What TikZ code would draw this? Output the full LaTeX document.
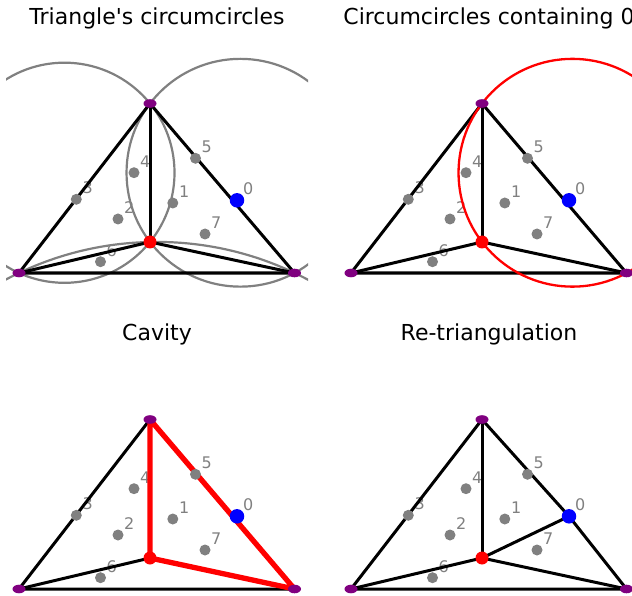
\documentclass[tikz,border=0pt]{standalone}
\usepackage{fontspec}
\setmainfont{DejaVu Sans}[Ligatures=TeXOff]
\usetikzlibrary{calc,shapes.geometric}
\definecolor{mpurple}{HTML}{800080}
\definecolor{mgray}{HTML}{808080}
\definecolor{mred}{HTML}{FF0000}
\definecolor{mblue}{HTML}{0000FF}
\tikzset{
  ttl/.style={font=\fontsize{22}{24}\selectfont, text=black, inner sep=0pt, anchor=base},
  lbl/.style={font=\fontsize{16}{18}\selectfont, text=mgray, inner sep=0pt, anchor=base west},
  edge/.style={draw=black, line width=3pt, line join=round},
  cavedge/.style={draw=mred, line width=5.3pt, line join=round, line cap=round},
  ccirc/.style={draw=mgray, line width=2.2pt},
  rcirc/.style={draw=mred, line width=2.3pt},
  gpt/.style={circle, fill=mgray, inner sep=0pt, minimum size=11pt},
  rpt/.style={circle, fill=mred, inner sep=0pt, minimum size=13pt},
  bpt/.style={circle, fill=mblue, inner sep=0pt, minimum size=14.5pt},
  vpt/.style={ellipse, fill=mpurple, inner sep=0pt, minimum width=13pt, minimum height=8.6pt},
}
% panel geometry: #1 suffix, #2 x shift, #3 y shift
\newcommand{\mkpanel}[3]{%
  \begin{scope}[shift={(#2,#3)}]
    \coordinate (T#1) at (150,103.5);
    \coordinate (L#1) at (19,273);
    \coordinate (R#1) at (294.5,273);
    \coordinate (C#1) at (150,242);
    \coordinate (Pz#1) at (237,200.3);
    \coordinate (Pa#1) at (172.8,203);
    \coordinate (Pb#1) at (118,219);
    \coordinate (Pc#1) at (76.3,199.3);
    \coordinate (Pd#1) at (134,172.7);
    \coordinate (Pe#1) at (195.5,158.3);
    \coordinate (Pf#1) at (100.5,261.7);
    \coordinate (Pg#1) at (205,234);
  \end{scope}}
\newcommand{\mklabels}[1]{%
  \node[lbl] (lz#1) at ($(Pz#1)+(6,-5.5)$) {0};
  \node[lbl] (la#1) at ($(Pa#1)+(6,-5.5)$) {1};
  \node[lbl] (lb#1) at ($(Pb#1)+(6,-5.5)$) {2};
  \node[lbl] (lc#1) at ($(Pc#1)+(6,-5.5)$) {3};
  \node[lbl] (ld#1) at ($(Pd#1)+(6,-5.5)$) {4};
  \node[lbl] (le#1) at ($(Pe#1)+(6,-5.5)$) {5};
  \node[lbl] (lf#1) at ($(Pf#1)+(6,-5.5)$) {6};
  \node[lbl] (lg#1) at ($(Pg#1)+(6,-5.5)$) {7};}
\newcommand{\mkpoints}[1]{%
  \node[gpt] (ga#1) at (Pa#1) {};
  \node[gpt] (gb#1) at (Pb#1) {};
  \node[gpt] (gc#1) at (Pc#1) {};
  \node[gpt] (gd#1) at (Pd#1) {};
  \node[gpt] (ge#1) at (Pe#1) {};
  \node[gpt] (gf#1) at (Pf#1) {};
  \node[gpt] (gg#1) at (Pg#1) {};
  \node[rpt] (rc#1) at (C#1) {};
  \node[bpt] (bz#1) at (Pz#1) {};
  \node[vpt] (vt#1) at (T#1) {};
  \node[vpt] (vl#1) at (L#1) {};
  \node[vpt] (vr#1) at (R#1) {};}
\begin{document}
\begin{tikzpicture}[x=1pt,y=-1pt]
\useasboundingbox (0,0) rectangle (632,596);
\mkpanel{A}{0}{0}
\mkpanel{B}{332}{0}
\mkpanel{C}{0}{316}
\mkpanel{D}{332}{316}
% titles
\node[ttl] (t1) at (157,24.5) {Triangle's circumcircles};
\node[ttl] (t2) at (489,24.5) {Circumcircles containing 0};
\node[ttl] (t3) at (157,340) {Cavity};
\node[ttl] (t4) at (489,340) {Re-triangulation};
% ---- panel A
\mklabels{A}
\begin{scope}
  \clip (6,0) rectangle (308,305);
  \draw[ccirc] (64.44,172.75) circle[radius=110.07pt];
  \draw[ccirc] (240.43,172.75) circle[radius=113.9pt];
  \draw[ccirc] (156.75,562.81) circle[radius=320.88pt];
\end{scope}
\draw[edge] (TA) -- (LA) -- (RA) -- cycle;
\draw[edge] (TA) -- (CA);
\draw[edge] (CA) -- (LA);
\draw[edge] (CA) -- (RA);
\mkpoints{A}
% ---- panel B
\mklabels{B}
\draw[edge] (TB) -- (LB) -- (RB) -- cycle;
\draw[edge] (TB) -- (CB);
\draw[edge] (CB) -- (LB);
\draw[edge] (CB) -- (RB);
\begin{scope}
  \clip (338,0) rectangle (632,305);
  \draw[rcirc] (572.43,172.75) circle[radius=113.9pt];
\end{scope}
\mkpoints{B}
% ---- panel C
\mklabels{C}
\draw[edge] (TC) -- (LC) -- (RC);
\draw[edge] (CC) -- (LC);
\draw[cavedge] (TC) -- (RC) -- (CC) -- cycle;
\mkpoints{C}
% ---- panel D
\mklabels{D}
\draw[edge] (TD) -- (LD) -- (RD);
\draw[edge] (TD) -- (PzD) -- (RD);
\draw[edge] (TD) -- (CD);
\draw[edge] (CD) -- (LD);
\draw[edge] (CD) -- (RD);
\draw[edge] (CD) -- (PzD);
\mkpoints{D}
\end{tikzpicture}
\end{document}
